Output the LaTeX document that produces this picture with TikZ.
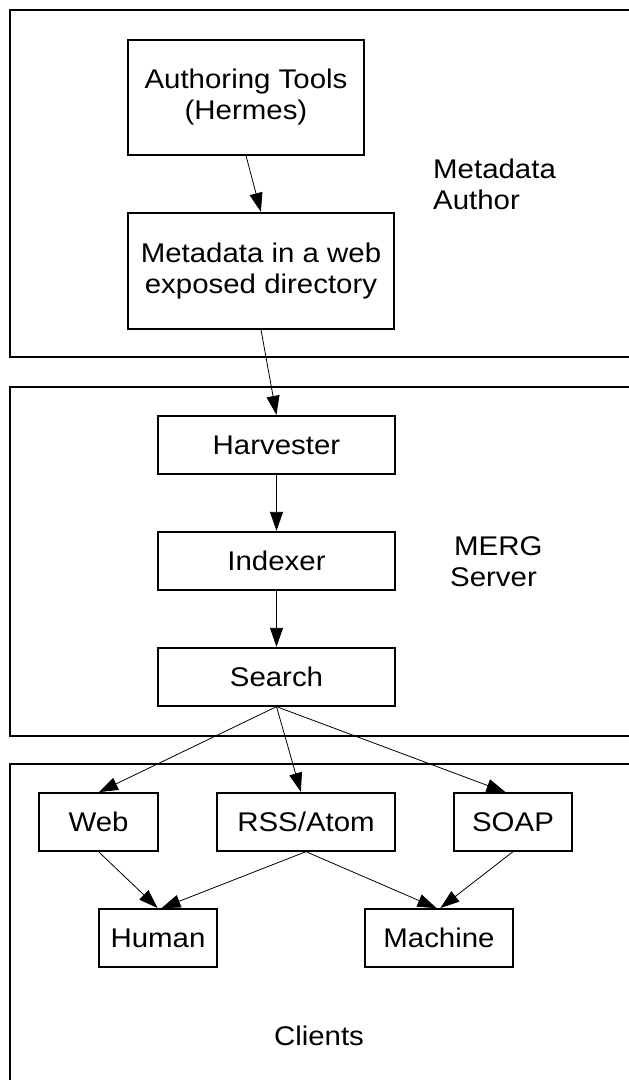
\documentclass[tikz,border=0pt]{standalone}
\usepackage{fontspec}
\setmainfont{Liberation Sans}[FakeStretch=1.09]
\usetikzlibrary{arrows.meta}
\begin{document}
\begin{tikzpicture}[x=1pt,y=-1pt,
  font=\fontsize{27}{31}\selectfont,
  group/.style={draw=black,line width=1.3pt},
  box/.style={draw=black,line width=1.3pt,align=center,inner sep=0pt,minimum height=58pt},
  arr/.style={-{Triangle[length=19pt,width=13pt]},line width=0.8pt,shorten >=0.5pt},
  lbl/.style={align=left,inner sep=0pt}
]
\useasboundingbox (0,0) rectangle (629,1080);
\clip (0,0) rectangle (629,1080);
% group frames
\draw[group] (10,10) rectangle (660,357);
\draw[group] (10,387) rectangle (660,736);
\draw[group] (10,764) rectangle (660,1100);
% nodes
\node[box,minimum width=236pt,minimum height=115pt] (auth) at (246,97.5) {Authoring Tools\\(Hermes)};
\node[box,minimum width=266pt,minimum height=116pt] (meta) at (261,271) {Metadata in a web\\exposed directory};
\node[box,minimum width=237pt] (harv) at (276.5,445) {Harvester};
\node[box,minimum width=237pt] (idx) at (276.5,561) {Indexer};
\node[box,minimum width=237pt] (srch) at (276.5,677) {Search};
\node[box,minimum width=119pt] (web) at (98.5,822) {Web};
\node[box,minimum width=178pt] (rss) at (306,822) {RSS/Atom};
\node[box,minimum width=118pt] (soap) at (513,822) {SOAP};
\node[box,minimum width=118pt] (human) at (158,938) {Human};
\node[box,minimum width=148pt] (mach) at (439,938) {Machine};
% labels
\node[lbl,anchor=west] (lA) at (433,184.5) {Metadata\\Author};
\node[lbl,anchor=west] (lB) at (450,561.5) {\hspace*{4pt}MERG\\Server};
\node[lbl] (lC) at (319,1036) {Clients};
% connectors
\draw[arr] (auth.south) -- (meta.north);
\draw[arr] (meta.south) -- (harv.north);
\draw[arr] (harv.south) -- (idx.north);
\draw[arr] (idx.south) -- (srch.north);
\draw[arr] (srch.south) -- (web.north);
\draw[arr] (srch.south) -- ([xshift=-5pt]rss.north);
\draw[arr] (srch.south) -- ([xshift=-7pt]soap.north);
\draw[arr] (web.south) -- (human.north);
\draw[arr] (rss.south) -- ([xshift=3pt]human.north);
\draw[arr] (rss.south) -- ([xshift=-2pt]mach.north);
\draw[arr] (soap.south) -- ([xshift=1pt]mach.north);
\end{tikzpicture}
\end{document}
